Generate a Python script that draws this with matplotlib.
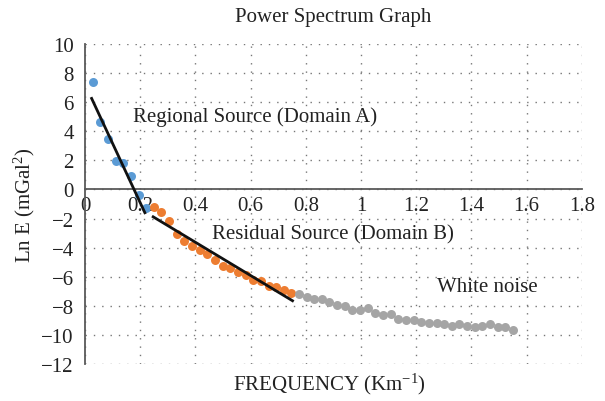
import numpy as np
import matplotlib
matplotlib.use('Agg')
from matplotlib import pyplot as plt

plt.rcParams['font.family'] = ['Liberation Serif', 'DejaVu Serif']
plt.rcParams['mathtext.fontset'] = 'custom'
plt.rcParams['mathtext.rm'] = 'Liberation Serif'
plt.rcParams['mathtext.it'] = 'Liberation Serif:italic'

# Domain A (regional)
freq_a = [0.028, 0.056, 0.083, 0.111, 0.139, 0.166, 0.194, 0.222]
lne_a = [7.36, 4.64, 3.5, 1.95, 1.84, 0.92, -0.41, -1.3]
# Domain B (residual)
freq_b = [0.250, 0.277, 0.305, 0.333, 0.360, 0.388, 0.416, 0.443, 0.471, 0.499,
          0.526, 0.554, 0.582, 0.609, 0.637, 0.665, 0.693, 0.720, 0.748]
lne_b = [-1.22, -1.56, -2.14, -3.03, -3.52, -3.91, -4.18, -4.44, -4.87, -5.24,
         -5.4, -5.68, -5.91, -6.2, -6.32, -6.62, -6.71, -6.94, -7.1]
# white noise
freq_c = [0.776, 0.803, 0.831, 0.859, 0.886, 0.914, 0.942, 0.969, 0.997, 1.025,
          1.052, 1.080, 1.108, 1.135, 1.163, 1.191, 1.219, 1.246, 1.274, 1.302,
          1.329, 1.357, 1.385, 1.412, 1.440, 1.468, 1.495, 1.523, 1.551]
lne_c = [-7.17, -7.36, -7.52, -7.54, -7.77, -7.93, -7.98, -8.28, -8.28, -8.17,
         -8.46, -8.66, -8.55, -8.88, -8.94, -8.98, -9.14, -9.15, -9.15, -9.26,
         -9.41, -9.28, -9.4, -9.48, -9.38, -9.26, -9.43, -9.47, -9.63]

# fitted trend lines (end points)
fit_a_x = [0.024, 0.217]
fit_a_y = [6.26, -1.6]
fit_b_x = [0.247, 0.752]
fit_b_y = [-1.88, -7.65]

fig = plt.figure(figsize=(6.05, 4.02), dpi=100)
ax = fig.add_axes([0.1405, 0.092, 0.821, 0.796])

ax.scatter(freq_a, lne_a, s=42, color='#5B9BD5', zorder=3, linewidths=0)
ax.scatter(freq_b, lne_b, s=42, color='#ED7D31', zorder=3, linewidths=0)
ax.scatter(freq_c, lne_c, s=42, color='#A5A5A5', zorder=3, linewidths=0)
ax.plot(fit_a_x, fit_a_y, color='#111111', lw=2, zorder=4)
ax.plot(fit_b_x, fit_b_y, color='#111111', lw=2, zorder=4)

ax.set_xlim(0, 1.8)
ax.set_ylim(-12, 10)
ax.set_xticks(np.arange(0, 1.81, 0.2))
ax.set_xticklabels(['0', '0.2', '0.4', '0.6', '0.8', '1', '1.2', '1.4', '1.6', '1.8'])
ax.set_yticks(np.arange(-12, 11, 2))
ax.set_yticklabels(['\u221212', '\u221210', '\u22128', '\u22126', '\u22124', '\u22122',
                    '0', '2', '4', '6', '8', '10'])
ax.tick_params(length=0, labelsize=15, colors='#222222')
ax.tick_params(axis='x', pad=5)
ax.tick_params(axis='y', pad=8)

ax.spines['left'].set_position(('data', 0))
ax.spines['bottom'].set_position(('data', 0))
ax.spines['top'].set_visible(False)
ax.spines['right'].set_visible(False)
for s in ['left', 'bottom']:
    ax.spines[s].set_color('#595959')
    ax.spines[s].set_linewidth(1.3)

ax.grid(True, color='#777777', linestyle=(0, (1, 5)), linewidth=1)
ax.set_axisbelow(True)

ax.text(0.174, 5.07, 'Regional Source (Domain A)', fontsize=15, va='center', color='#222222')
ax.text(0.46, -3.07, 'Residual Source (Domain B)', fontsize=15, va='center', color='#222222')
ax.text(1.275, -6.65, 'White noise', fontsize=15, va='center', color='#222222')

fig.text(0.55, 0.957, 'Power Spectrum Graph', fontsize=15, ha='center', va='center', color='#222222')
fig.text(0.545, 0.043, 'FREQUENCY (Km$^{-1}$)', fontsize=15, ha='center', va='center', color='#222222')
fig.text(0.04, 0.49, 'Ln E (mGal$^{2}$)', fontsize=15, ha='center', va='center',
         rotation=90, color='#222222')

fig.savefig('out.png', dpi=100)
